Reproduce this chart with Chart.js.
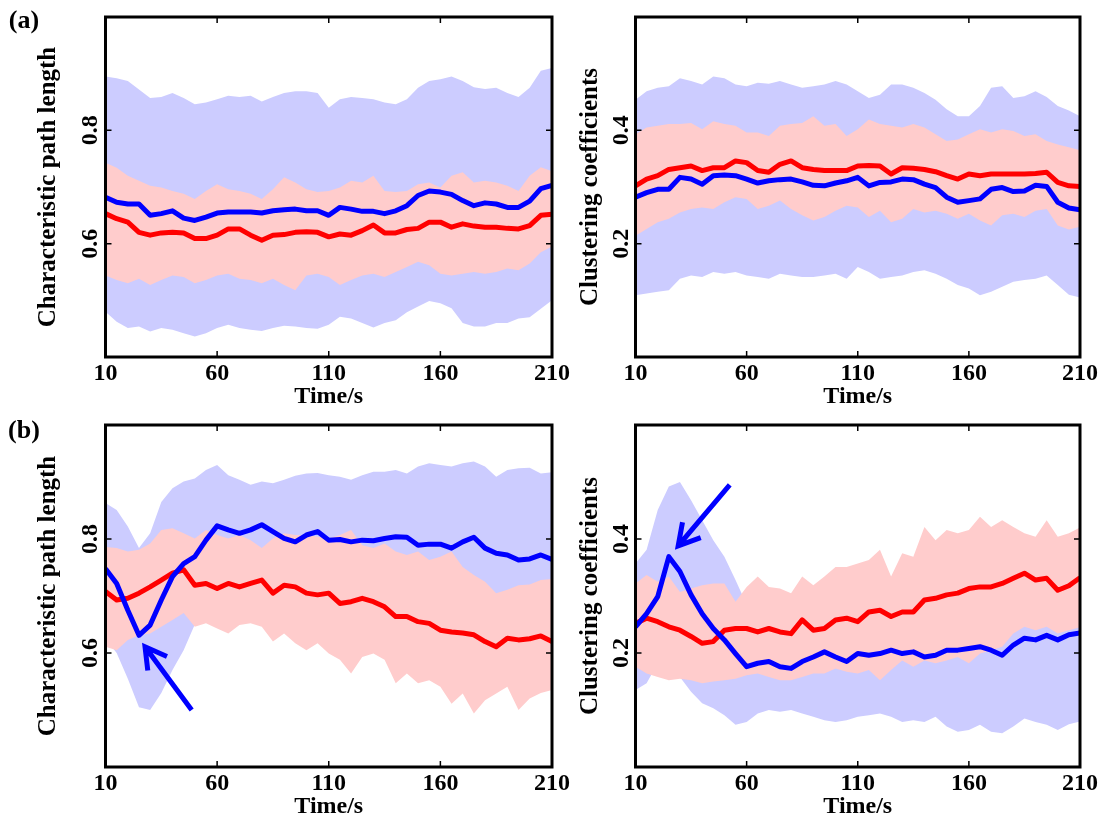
<!DOCTYPE html>
<html>
<head>
<meta charset="utf-8">
<script src="https://cdn.jsdelivr.net/npm/chart.js@4.4.1/dist/chart.umd.min.js"></script>
<style>
  body { margin: 0; background: #fff; width: 1103px; height: 823px; position: relative; overflow: hidden; }
  canvas { position: absolute; }
</style>
</head>
<body>
<canvas id="a1" width="585" height="412" style="left:0;top:0"></canvas>
<canvas id="a2" width="533" height="412" style="left:570px;top:0"></canvas>
<canvas id="b1" width="585" height="411" style="left:0;top:412px"></canvas>
<canvas id="b2" width="533" height="411" style="left:570px;top:412px"></canvas>
<script>
// time axis, one sample every 5 s
const times = [10, 15, 20, 25, 30, 35, 40, 45, 50, 55,
  60, 65, 70, 75, 80, 85, 90, 95, 100, 105,
  110, 115, 120, 125, 130, 135, 140, 145, 150, 155,
  160, 165, 170, 175, 180, 185, 190, 195, 200, 205, 210];
const timeTicks = [10, 60, 110, 160, 210];
const pathTicks = [0.6, 0.8];
const clusterTicks = [0.2, 0.4];

// (a) characteristic path length
const a1BlueMean = [0.682, 0.673, 0.670, 0.670, 0.650, 0.653, 0.658, 0.645, 0.641, 0.647,
  0.654, 0.656, 0.656, 0.656, 0.654, 0.658, 0.660, 0.661, 0.658, 0.658,
  0.650, 0.664, 0.661, 0.657, 0.657, 0.653, 0.658, 0.667, 0.685, 0.693,
  0.691, 0.687, 0.676, 0.667, 0.672, 0.670, 0.664, 0.664, 0.675, 0.697, 0.703];
const a1BlueUpper = [0.895, 0.892, 0.887, 0.872, 0.857, 0.859, 0.866, 0.857, 0.846, 0.849,
  0.855, 0.861, 0.859, 0.861, 0.851, 0.859, 0.866, 0.869, 0.869, 0.866,
  0.840, 0.855, 0.859, 0.857, 0.855, 0.849, 0.846, 0.855, 0.875, 0.887,
  0.890, 0.895, 0.887, 0.876, 0.873, 0.875, 0.866, 0.859, 0.875, 0.905, 0.910];
const a1BlueLower = [0.480, 0.462, 0.451, 0.454, 0.445, 0.451, 0.448, 0.442, 0.436, 0.442,
  0.451, 0.457, 0.451, 0.448, 0.446, 0.451, 0.455, 0.454, 0.451, 0.450,
  0.457, 0.471, 0.468, 0.460, 0.452, 0.460, 0.465, 0.479, 0.489, 0.499,
  0.495, 0.486, 0.460, 0.454, 0.454, 0.460, 0.460, 0.468, 0.470, 0.485, 0.500];
const a1RedMean = [0.653, 0.644, 0.638, 0.620, 0.615, 0.619, 0.620, 0.619, 0.609, 0.609,
  0.615, 0.626, 0.626, 0.615, 0.606, 0.615, 0.616, 0.620, 0.621, 0.620,
  0.612, 0.617, 0.615, 0.623, 0.633, 0.619, 0.619, 0.625, 0.627, 0.638,
  0.638, 0.629, 0.635, 0.631, 0.629, 0.629, 0.627, 0.626, 0.632, 0.650, 0.652];
const a1RedUpper = [0.743, 0.734, 0.720, 0.711, 0.702, 0.699, 0.693, 0.688, 0.679, 0.693,
  0.705, 0.696, 0.693, 0.688, 0.679, 0.696, 0.717, 0.708, 0.696, 0.691,
  0.693, 0.699, 0.711, 0.708, 0.720, 0.693, 0.691, 0.693, 0.705, 0.708,
  0.699, 0.720, 0.726, 0.708, 0.711, 0.708, 0.702, 0.693, 0.720, 0.735, 0.728];
const a1RedLower = [0.544, 0.536, 0.530, 0.538, 0.527, 0.536, 0.544, 0.541, 0.530, 0.536,
  0.544, 0.547, 0.538, 0.536, 0.530, 0.538, 0.527, 0.518, 0.544, 0.547,
  0.541, 0.527, 0.536, 0.544, 0.547, 0.541, 0.550, 0.559, 0.568, 0.562,
  0.547, 0.544, 0.547, 0.550, 0.547, 0.550, 0.556, 0.553, 0.565, 0.585, 0.595];

// (a) clustering coefficients
const a2BlueMean = [0.282, 0.290, 0.296, 0.296, 0.317, 0.314, 0.305, 0.320, 0.321, 0.320,
  0.314, 0.307, 0.311, 0.313, 0.314, 0.309, 0.303, 0.302, 0.307, 0.311,
  0.317, 0.302, 0.308, 0.309, 0.314, 0.313, 0.305, 0.299, 0.282, 0.273,
  0.276, 0.279, 0.296, 0.299, 0.292, 0.293, 0.303, 0.301, 0.273, 0.263, 0.260];
const a2BlueUpper = [0.454, 0.469, 0.475, 0.478, 0.492, 0.487, 0.481, 0.495, 0.492, 0.481,
  0.478, 0.484, 0.482, 0.487, 0.481, 0.475, 0.478, 0.481, 0.487, 0.481,
  0.469, 0.457, 0.463, 0.481, 0.481, 0.475, 0.466, 0.454, 0.437, 0.425,
  0.425, 0.443, 0.475, 0.478, 0.457, 0.460, 0.469, 0.459, 0.443, 0.435, 0.425];
const a2BlueLower = [0.109, 0.112, 0.115, 0.118, 0.138, 0.144, 0.141, 0.150, 0.147, 0.150,
  0.144, 0.141, 0.138, 0.147, 0.144, 0.141, 0.141, 0.144, 0.147, 0.138,
  0.159, 0.150, 0.138, 0.141, 0.144, 0.150, 0.153, 0.147, 0.138, 0.127,
  0.121, 0.109, 0.115, 0.124, 0.133, 0.136, 0.138, 0.144, 0.127, 0.110, 0.105];
const a2RedMean = [0.302, 0.314, 0.320, 0.331, 0.334, 0.337, 0.329, 0.334, 0.334, 0.346,
  0.343, 0.329, 0.326, 0.340, 0.346, 0.334, 0.331, 0.329, 0.329, 0.329,
  0.337, 0.338, 0.337, 0.323, 0.334, 0.333, 0.331, 0.327, 0.320, 0.314,
  0.323, 0.320, 0.323, 0.323, 0.323, 0.323, 0.324, 0.326, 0.308, 0.302, 0.301];
const a2RedUpper = [0.393, 0.405, 0.408, 0.411, 0.411, 0.413, 0.402, 0.416, 0.411, 0.408,
  0.396, 0.396, 0.390, 0.408, 0.411, 0.413, 0.425, 0.408, 0.411, 0.390,
  0.402, 0.419, 0.411, 0.408, 0.405, 0.411, 0.405, 0.393, 0.381, 0.384,
  0.393, 0.402, 0.396, 0.402, 0.399, 0.390, 0.393, 0.381, 0.375, 0.370, 0.365];
const a2RedLower = [0.214, 0.226, 0.238, 0.244, 0.255, 0.261, 0.264, 0.261, 0.273, 0.282,
  0.279, 0.261, 0.267, 0.276, 0.261, 0.250, 0.241, 0.247, 0.258, 0.267,
  0.264, 0.247, 0.258, 0.238, 0.244, 0.261, 0.255, 0.258, 0.253, 0.244,
  0.253, 0.241, 0.232, 0.250, 0.253, 0.247, 0.258, 0.261, 0.232, 0.225, 0.230];

// (b) characteristic path length
const b1BlueMean = [0.748, 0.722, 0.675, 0.631, 0.649, 0.693, 0.734, 0.757, 0.769, 0.798,
  0.823, 0.816, 0.810, 0.816, 0.825, 0.813, 0.801, 0.795, 0.807, 0.813,
  0.798, 0.799, 0.795, 0.798, 0.797, 0.801, 0.804, 0.803, 0.789, 0.791,
  0.791, 0.784, 0.795, 0.803, 0.784, 0.775, 0.772, 0.763, 0.765, 0.772, 0.764];
const b1BlueUpper = [0.863, 0.851, 0.822, 0.784, 0.810, 0.865, 0.889, 0.901, 0.906, 0.921,
  0.930, 0.912, 0.904, 0.895, 0.901, 0.898, 0.904, 0.911, 0.915, 0.916,
  0.912, 0.909, 0.904, 0.912, 0.918, 0.918, 0.921, 0.915, 0.927, 0.933,
  0.930, 0.927, 0.933, 0.936, 0.927, 0.909, 0.921, 0.924, 0.925, 0.915, 0.917];
const b1BlueLower = [0.625, 0.600, 0.555, 0.505, 0.500, 0.530, 0.570, 0.605, 0.650, 0.672,
  0.690, 0.695, 0.688, 0.692, 0.700, 0.694, 0.690, 0.686, 0.690, 0.684,
  0.680, 0.676, 0.680, 0.672, 0.668, 0.670, 0.664, 0.668, 0.662, 0.660,
  0.664, 0.660, 0.658, 0.662, 0.656, 0.660, 0.658, 0.662, 0.660, 0.664, 0.660];
const b1RedMean = [0.708, 0.693, 0.696, 0.705, 0.716, 0.728, 0.740, 0.746, 0.719, 0.722,
  0.713, 0.722, 0.716, 0.722, 0.728, 0.705, 0.719, 0.716, 0.705, 0.702,
  0.705, 0.687, 0.690, 0.696, 0.690, 0.681, 0.664, 0.664, 0.655, 0.652,
  0.640, 0.637, 0.635, 0.632, 0.620, 0.611, 0.626, 0.623, 0.625, 0.630, 0.620];
const b1RedUpper = [0.786, 0.784, 0.778, 0.781, 0.792, 0.816, 0.819, 0.810, 0.801, 0.816,
  0.807, 0.801, 0.807, 0.798, 0.784, 0.801, 0.810, 0.807, 0.807, 0.804,
  0.801, 0.807, 0.816, 0.789, 0.784, 0.792, 0.778, 0.772, 0.778, 0.763,
  0.769, 0.778, 0.751, 0.737, 0.725, 0.705, 0.711, 0.719, 0.720, 0.728, 0.730];
const b1RedLower = [0.611, 0.605, 0.623, 0.631, 0.634, 0.646, 0.658, 0.670, 0.646, 0.652,
  0.643, 0.634, 0.649, 0.652, 0.646, 0.620, 0.634, 0.617, 0.605, 0.617,
  0.599, 0.588, 0.564, 0.593, 0.599, 0.588, 0.547, 0.564, 0.547, 0.552,
  0.541, 0.511, 0.529, 0.494, 0.517, 0.529, 0.541, 0.500, 0.520, 0.530, 0.535];

// (b) clustering coefficients
const b2BlueMean = [0.246, 0.269, 0.299, 0.369, 0.343, 0.302, 0.269, 0.243, 0.223, 0.199,
  0.176, 0.182, 0.185, 0.176, 0.173, 0.185, 0.193, 0.202, 0.193, 0.185,
  0.199, 0.196, 0.199, 0.205, 0.199, 0.202, 0.193, 0.196, 0.205, 0.205,
  0.208, 0.211, 0.205, 0.196, 0.214, 0.226, 0.223, 0.231, 0.223, 0.232, 0.235];
const b2BlueUpper = [0.357, 0.381, 0.451, 0.492, 0.500, 0.468, 0.433, 0.398, 0.369, 0.328,
  0.285, 0.280, 0.282, 0.285, 0.280, 0.288, 0.290, 0.292, 0.295, 0.296,
  0.300, 0.302, 0.300, 0.298, 0.305, 0.310, 0.312, 0.315, 0.318, 0.320,
  0.322, 0.325, 0.322, 0.326, 0.330, 0.335, 0.332, 0.335, 0.330, 0.334, 0.336];
const b2BlueLower = [0.135, 0.147, 0.182, 0.173, 0.158, 0.132, 0.112, 0.103, 0.091, 0.074,
  0.079, 0.094, 0.100, 0.097, 0.100, 0.094, 0.088, 0.082, 0.079, 0.082,
  0.088, 0.091, 0.094, 0.088, 0.079, 0.082, 0.079, 0.088, 0.071, 0.062,
  0.065, 0.074, 0.062, 0.059, 0.071, 0.085, 0.079, 0.074, 0.065, 0.075, 0.080];
const b2RedMean = [0.252, 0.261, 0.255, 0.246, 0.240, 0.229, 0.217, 0.220, 0.240, 0.243,
  0.243, 0.237, 0.243, 0.237, 0.234, 0.258, 0.240, 0.243, 0.258, 0.261,
  0.255, 0.272, 0.275, 0.264, 0.272, 0.272, 0.293, 0.296, 0.302, 0.305,
  0.313, 0.316, 0.316, 0.322, 0.331, 0.340, 0.328, 0.331, 0.310, 0.318, 0.332];
const b2RedUpper = [0.322, 0.337, 0.325, 0.334, 0.307, 0.313, 0.319, 0.322, 0.322, 0.290,
  0.316, 0.334, 0.316, 0.313, 0.305, 0.334, 0.319, 0.334, 0.351, 0.351,
  0.357, 0.363, 0.381, 0.334, 0.375, 0.369, 0.421, 0.398, 0.416, 0.410,
  0.416, 0.439, 0.421, 0.433, 0.421, 0.410, 0.404, 0.433, 0.404, 0.410, 0.420];
const b2RedLower = [0.176, 0.164, 0.158, 0.152, 0.155, 0.152, 0.147, 0.150, 0.152, 0.155,
  0.161, 0.164, 0.158, 0.152, 0.152, 0.158, 0.164, 0.164, 0.173, 0.167,
  0.164, 0.170, 0.152, 0.170, 0.187, 0.176, 0.187, 0.182, 0.187, 0.193,
  0.182, 0.199, 0.205, 0.211, 0.234, 0.246, 0.240, 0.246, 0.234, 0.240, 0.245];

const serif = "'Liberation Serif', 'Times New Roman', serif";
const tickFont = { family: serif, weight: 'bold', size: 24, lineHeight: 1 };
const titleFont = { family: serif, weight: 'bold', size: 25, lineHeight: 1 };

const pts = arr => arr.map((v, i) => ({ x: times[i], y: v }));

// frame, inward ticks, panel tag and arrow
const decor = {
  id: 'decor',
  afterDatasetsDraw(chart, args, o) {
    const { ctx, chartArea: a, scales: { x, y } } = chart;
    ctx.save();
    if (o.arrow) {
      const x0 = x.getPixelForValue(o.arrow.from[0]), y0 = y.getPixelForValue(o.arrow.from[1]);
      const x1 = x.getPixelForValue(o.arrow.to[0]), y1 = y.getPixelForValue(o.arrow.to[1]);
      const ang = Math.atan2(y1 - y0, x1 - x0);
      const L = 24, h = 0.52;
      ctx.strokeStyle = '#0000ff';
      ctx.lineWidth = 5;
      ctx.lineJoin = 'miter';
      ctx.beginPath();
      ctx.moveTo(x0, y0);
      ctx.lineTo(x1, y1);
      ctx.moveTo(x1 - L * Math.cos(ang - h), y1 - L * Math.sin(ang - h));
      ctx.lineTo(x1, y1);
      ctx.lineTo(x1 - L * Math.cos(ang + h), y1 - L * Math.sin(ang + h));
      ctx.stroke();
    }
    ctx.strokeStyle = '#000';
    ctx.lineWidth = 1.5;
    ctx.beginPath();
    o.xt.forEach(v => {
      if (v <= x.min || v >= x.max) return;
      const p = x.getPixelForValue(v);
      ctx.moveTo(p, a.top); ctx.lineTo(p, a.top + 6);
      ctx.moveTo(p, a.bottom); ctx.lineTo(p, a.bottom - 6);
    });
    o.yt.forEach(v => {
      const p = y.getPixelForValue(v);
      ctx.moveTo(a.left, p); ctx.lineTo(a.left + 6, p);
      ctx.moveTo(a.right, p); ctx.lineTo(a.right - 6, p);
    });
    ctx.stroke();
    ctx.lineWidth = 3;
    ctx.strokeRect(a.left, a.top, a.right - a.left, a.bottom - a.top);
    if (o.tag) {
      ctx.fillStyle = '#000';
      ctx.font = 'bold 26px ' + serif;
      ctx.textAlign = 'center';
      ctx.textBaseline = 'middle';
      ctx.fillText(o.tag, o.tagX, o.tagY);
    }
    ctx.restore();
  }
};

function makeChart(id, s, opt) {
  const band = (data, color, fill, order) => ({
    data: pts(data), fill: fill, backgroundColor: color, borderWidth: 0,
    pointRadius: 0, order: order
  });
  const line = (data, color, order) => ({
    data: pts(data), borderColor: color, borderWidth: 5, pointRadius: 0,
    fill: false, order: order, borderJoinStyle: 'round'
  });
  return new Chart(document.getElementById(id), {
    type: 'line',
    data: {
      datasets: [
        band(s.blueUpper, 'rgb(204,204,255)', '+1', 4),
        band(s.blueLower, 'rgb(204,204,255)', false, 4),
        band(s.redUpper, 'rgb(255,204,204)', '+1', 3),
        band(s.redLower, 'rgb(255,204,204)', false, 3),
        line(s.redMean, '#ff0000', 2),
        line(s.blueMean, '#0000ff', 1)
      ]
    },
    options: {
      responsive: false,
      animation: false,
      devicePixelRatio: 1,
      layout: { padding: opt.pad },
      plugins: {
        legend: { display: false },
        tooltip: { enabled: false },
        decor: { xt: timeTicks, yt: opt.yTicks, tag: opt.tag, tagX: 24, tagY: opt.tagY, arrow: opt.arrow }
      },
      scales: {
        x: {
          type: 'linear', min: 10, max: 210,
          afterBuildTicks: sc => { sc.ticks = timeTicks.map(v => ({ value: v })); },
          afterFit: sc => { sc.height = opt.xh; },
          grid: { display: false, drawTicks: false },
          border: { display: false },
          ticks: { font: tickFont, color: '#000', padding: 5, maxRotation: 0, autoSkip: false,
                   callback: v => String(v) },
          title: { display: true, text: 'Time/s', font: tickFont, color: '#000',
                   padding: { top: 0, bottom: opt.xTitlePad } }
        },
        y: {
          type: 'linear', min: opt.yMin, max: opt.yMax,
          afterBuildTicks: sc => { sc.ticks = opt.yTicks.map(v => ({ value: v })); },
          afterFit: sc => { sc.width = opt.yw; },
          grid: { display: false, drawTicks: false },
          border: { display: false },
          ticks: { font: tickFont, color: '#000', padding: opt.yTickPad, minRotation: 90, maxRotation: 90,
                   crossAlign: 'center', autoSkip: false, callback: v => v.toFixed(1) },
          title: { display: true, text: opt.yTitle, font: titleFont, color: '#000',
                   padding: { top: opt.yTitlePad, bottom: 0 } }
        }
      }
    },
    plugins: [decor]
  });
}

makeChart('a1', {
  blueMean: a1BlueMean, blueUpper: a1BlueUpper, blueLower: a1BlueLower,
  redMean: a1RedMean, redUpper: a1RedUpper, redLower: a1RedLower
}, {
  pad: { left: 0, top: 17, right: 33, bottom: 0 }, xh: 55, yw: 105.5,
  yMin: 0.4, yMax: 1.0, yTicks: pathTicks, yTitle: 'Characteristic path length',
  yTickPad: 0, yTitlePad: 36, xTitlePad: 3, tag: '(a)', tagY: 21
});

makeChart('a2', {
  blueMean: a2BlueMean, blueUpper: a2BlueUpper, blueLower: a2BlueLower,
  redMean: a2RedMean, redUpper: a2RedUpper, redLower: a2RedLower
}, {
  pad: { left: 0, top: 17, right: 22, bottom: 0 }, xh: 55, yw: 65.5,
  yMin: 0, yMax: 0.6, yTicks: clusterTicks, yTitle: 'Clustering coefficients',
  yTickPad: -1, yTitlePad: 8, xTitlePad: 3
});

makeChart('b1', {
  blueMean: b1BlueMean, blueUpper: b1BlueUpper, blueLower: b1BlueLower,
  redMean: b1RedMean, redUpper: b1RedUpper, redLower: b1RedLower
}, {
  pad: { left: 0, top: 13, right: 33, bottom: 0 }, xh: 56, yw: 105.5,
  yMin: 0.4, yMax: 1.0, yTicks: pathTicks, yTitle: 'Characteristic path length',
  yTickPad: 0, yTitlePad: 36, xTitlePad: 4, tag: '(b)', tagY: 19,
  arrow: { from: [48.6, 0.50], to: [27.7, 0.611] }
});

makeChart('b2', {
  blueMean: b2BlueMean, blueUpper: b2BlueUpper, blueLower: b2BlueLower,
  redMean: b2RedMean, redUpper: b2RedUpper, redLower: b2RedLower
}, {
  pad: { left: 0, top: 13, right: 22, bottom: 0 }, xh: 56, yw: 65.5,
  yMin: 0, yMax: 0.6, yTicks: clusterTicks, yTitle: 'Clustering coefficients',
  yTickPad: -1, yTitlePad: 8, xTitlePad: 4,
  arrow: { from: [52.4, 0.495], to: [29.2, 0.388] }
});
</script>
</body>
</html>
